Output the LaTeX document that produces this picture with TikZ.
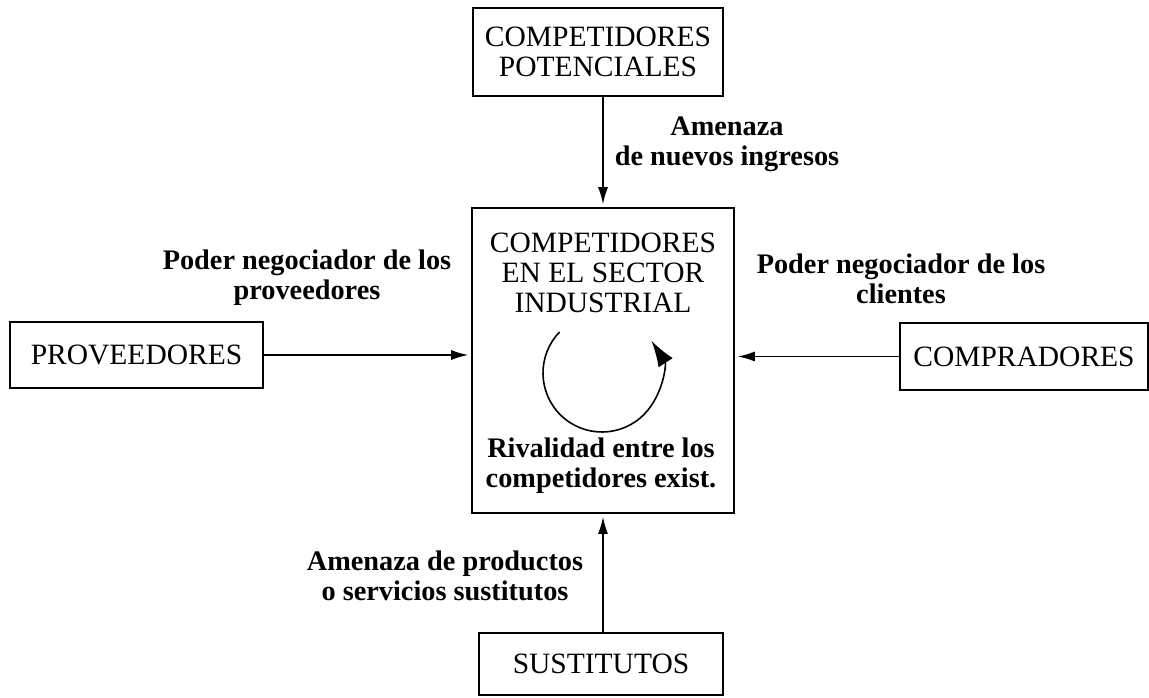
\documentclass[tikz,border=0pt]{standalone}
\usepackage{fontspec}
\setmainfont{Liberation Serif}
\usetikzlibrary{arrows.meta}
\begin{document}
\begin{tikzpicture}[x=1pt,y=1pt,
  box/.style={draw, line width=1.6pt, inner sep=0pt, font=\fontsize{29.5}{30}\selectfont, align=center},
  captxt/.style={inner sep=0pt, font=\fontsize{29.5}{30}\selectfont, align=center},
  lbl/.style={font=\bfseries\fontsize{28.3}{30}\selectfont, align=center, inner sep=0pt},
  arr/.style={-{Latex[length=17pt,width=10pt]}, line width=1.5pt, shorten >=3pt}]
\useasboundingbox (0,0) rectangle (1149,697);
\fill[white] (0,0) rectangle (1149,697);
\node[box, minimum width=250pt, minimum height=88pt] (pot) at (598,645) {COMPETIDORES\\POTENCIALES};
\node[box, minimum width=262pt, minimum height=305pt] (ind) at (603,336.5) {};
\node[box, minimum width=253pt, minimum height=66pt] (prov) at (136.5,342) {PROVEEDORES};
\node[box, minimum width=248pt, minimum height=67pt] (comp) at (1024,340.5) {COMPRADORES};
\node[box, minimum width=244pt, minimum height=62pt] (sust) at (601,33) {SUSTITUTOS};
\node[captxt] (indt) at (603,424) {COMPETIDORES\\EN EL SECTOR\\INDUSTRIAL};
\node[lbl] (riv) at (601,231) {Rivalidad entre los\\competidores exist.};
\coordinate (cc) at (602,324);
\draw[line width=1.6pt, -{Latex[length=26pt,width=17pt]}] ([shift={(136:59)}]cc) arc[start angle=136, end angle=393, radius=59];
\node[lbl] (l1) at (727,553) {Amenaza\\de nuevos ingresos};
\node[lbl] (l2) at (307,419) {Poder negociador de los\\proveedores};
\node[lbl] (l3) at (901,418) {Poder negociador de los\\clientes};
\node[lbl] (l4) at (445,121) {Amenaza de productos\\o servicios sustitutos};
\draw[arr] (pot.south -| ind.north) -- (ind.north);
\draw[arr] (prov.east) -- (prov.east -| ind.west);
\draw[arr] (comp.west) -- (comp.west -| ind.east);
\draw[arr] (sust.north -| ind.south) -- (ind.south);
\end{tikzpicture}
\end{document}
